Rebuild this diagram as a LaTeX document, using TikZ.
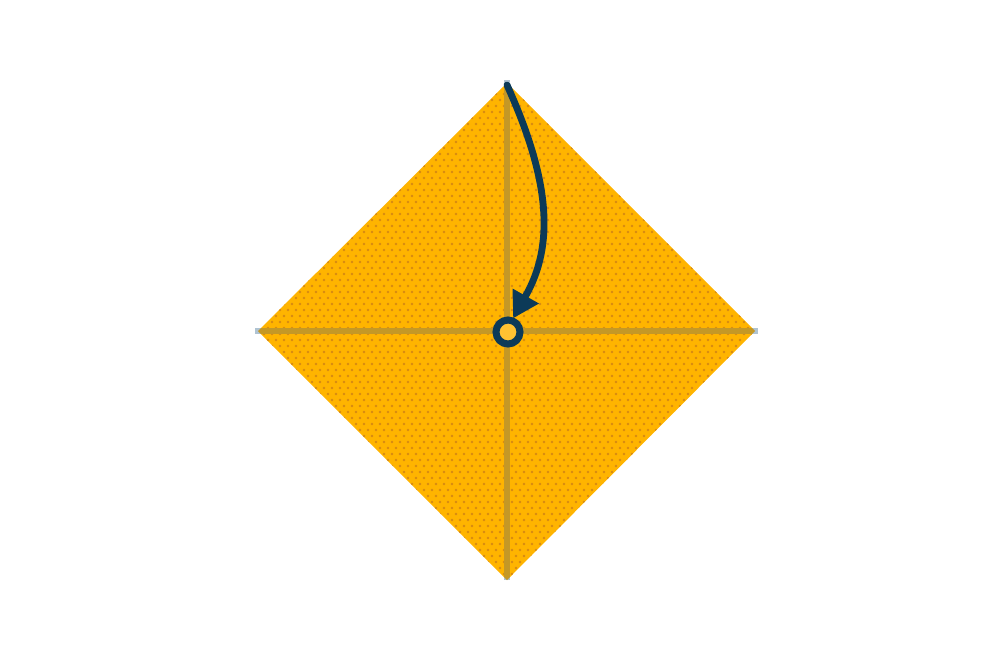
\documentclass[tikz,border=0pt]{standalone}
\usetikzlibrary{calc}
\definecolor{paper}{RGB}{255,180,0}
\definecolor{dotc}{RGB}{215,138,18}
\definecolor{creaseout}{RGB}{175,195,210}
\definecolor{creasein}{RGB}{196,152,38}
\definecolor{navy}{RGB}{12,58,88}
\definecolor{centerfill}{RGB}{255,194,50}
\begin{document}
\begin{tikzpicture}[x=0.02cm,y=-0.02cm,
  creaseline/.style={line width=3.4pt},
  arrowline/.style={draw=navy,line width=3.9pt},
  dotstyle/.style={fill=dotc}]
\useasboundingbox (0,0) rectangle (1000,667);
\coordinate (T) at (507,83);
\coordinate (L) at (258,331);
\coordinate (R) at (755,331);
\coordinate (B) at (507,580);
\fill[paper] (T) -- (R) -- (B) -- (L) -- cycle;
\begin{scope}
\clip (T) -- (R) -- (B) -- (L) -- cycle;
\foreach \j in {0,...,84}{
  \pgfmathsetmacro{\yy}{82+6*\j}
  \pgfmathsetmacro{\off}{mod(\j,2)*4}
  \foreach \i in {0,...,63}{
    \fill[dotstyle] ({256+\off+8*\i},\yy) circle (1.3);
  }
}
\end{scope}
\coordinate (HL) at (255,331);
\coordinate (HR) at (758,331);
\coordinate (VT) at (507,80);
\coordinate (VB) at (507,580);
\draw[creaseline,draw=creaseout] (HL) -- (HR);
\draw[creaseline,draw=creaseout] (VT) -- (VB);
\begin{scope}
\clip (T) -- (R) -- (B) -- (L) -- cycle;
\draw[creaseline,draw=creasein] (HL) -- (HR);
\draw[creaseline,draw=creasein] (VT) -- (VB);
\end{scope}
\node[circle,draw=navy,fill=centerfill,line width=4pt,inner sep=0pt,minimum size=0.48cm] (C) at (508,332) {};
\coordinate (S) at (507,85);
\coordinate (AB) at (525,297);
\draw[arrowline,line cap=round] (S) .. controls (550,180) and (555,245) .. (AB);
\fill[navy] (512.5,288.5) -- (539,303.5) -- (513.3,318) -- cycle;
\end{tikzpicture}
\end{document}
